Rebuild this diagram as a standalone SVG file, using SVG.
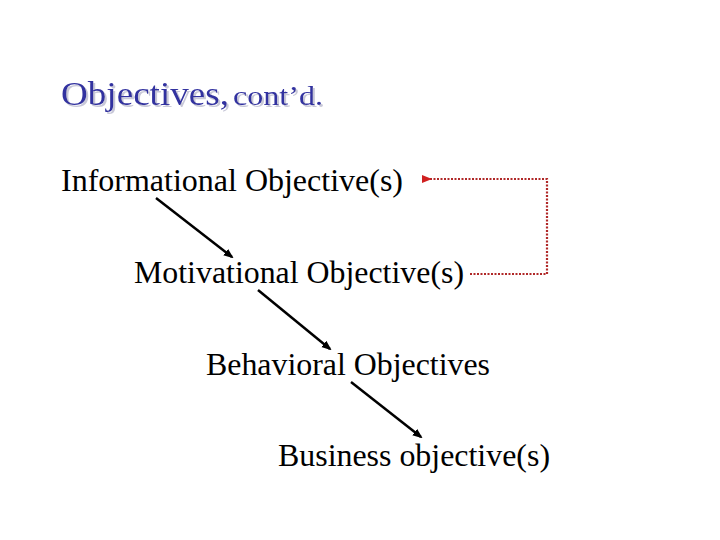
<svg xmlns="http://www.w3.org/2000/svg" width="720" height="540" viewBox="0 0 720 540">
<style>
text{font-family:"Liberation Serif","Times New Roman","DejaVu Serif","Noto Serif",serif}
.t{font-size:32px;fill:#000}
.ttl{fill:#3333a0;filter:url(#shadow)}
.a{stroke:#000;stroke-width:2.5;fill:none;marker-end:url(#ah)}
.d{stroke:#b02828;stroke-width:2.2;stroke-dasharray:2 1.5;fill:none}
</style>
<defs>
<filter id="shadow" x="-5%" y="-20%" width="115%" height="150%">
<feOffset in="SourceAlpha" dx="2" dy="2" result="o"/>
<feFlood flood-color="#c8c8d8"/>
<feComposite in2="o" operator="in" result="s"/>
<feMerge><feMergeNode in="s"/><feMergeNode in="SourceGraphic"/></feMerge>
</filter>
<marker id="ah" markerWidth="10" markerHeight="10" refX="8" refY="5" orient="auto" markerUnits="userSpaceOnUse"><path d="M0,1 L10,5 L0,9 Z" fill="#000"/></marker>
<marker id="rh" markerWidth="10" markerHeight="10" refX="2" refY="5" orient="auto" markerUnits="userSpaceOnUse"><path d="M10,1 L0,5 L10,9 Z" fill="#d02020"/></marker>
</defs>
<rect width="720" height="540" fill="#fff"/>
<g id="title">
<text class="ttl" x="61" y="105"><tspan font-size="33" textLength="168" lengthAdjust="spacingAndGlyphs">Objectives,</tspan><tspan x="233" font-size="27" textLength="90" lengthAdjust="spacingAndGlyphs">cont’d.</tspan></text>
</g>
<g id="informational"><text class="t" x="61" y="191" textLength="342" lengthAdjust="spacingAndGlyphs">Informational Objective(s)</text></g>
<g id="motivational"><text class="t" x="134" y="283" textLength="330" lengthAdjust="spacingAndGlyphs">Motivational Objective(s)</text></g>
<g id="behavioral"><text class="t" x="206" y="375" textLength="284" lengthAdjust="spacingAndGlyphs">Behavioral Objectives</text></g>
<g id="business"><text class="t" x="278" y="466" textLength="272" lengthAdjust="spacingAndGlyphs">Business objective(s)</text></g>
<g id="connectors">
<line class="a" x1="156" y1="198" x2="232" y2="257"/>
<line class="a" x1="258" y1="290" x2="330" y2="349"/>
<line class="a" x1="351" y1="382" x2="421" y2="437"/>
<path class="d" d="M470,274 H547 V179 H430" marker-end="url(#rh)"/>
</g>
</svg>
